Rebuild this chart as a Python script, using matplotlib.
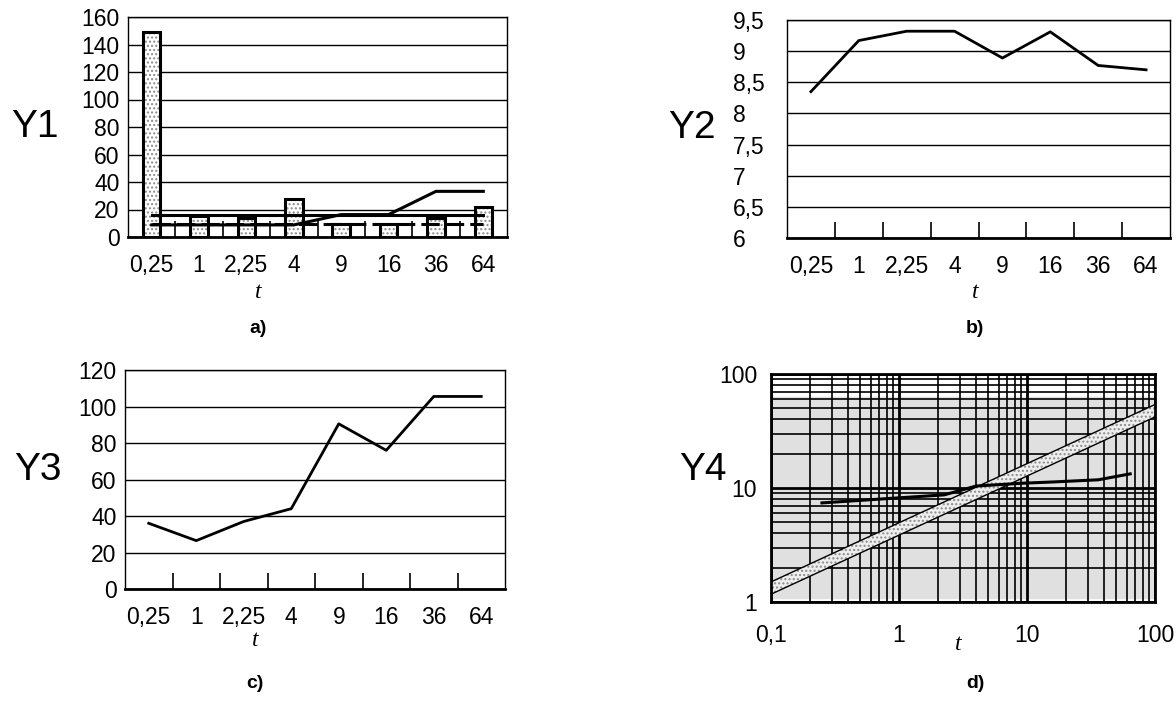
import numpy as np
import matplotlib
matplotlib.use("Agg")
import matplotlib.pyplot as plt
from matplotlib.ticker import FixedLocator, FixedFormatter, LogLocator, NullFormatter

plt.rcParams["font.family"] = ["Liberation Sans", "DejaVu Sans"]
plt.rcParams["hatch.linewidth"] = 1.0

# --- data ---
t_labels = ["0,25", "1", "2,25", "4", "9", "16", "36", "64"]
y1_bars = [149, 15.5, 13.5, 28, 9.5, 9.5, 13.5, 22]
y1_mean = [16.3, 16.3, 16.3, 16.3, 16.3, 16.3, 16.3, 16.3]
y1_step = [8.8, 8.8, 8.8, 8.8, 16.3, 16.3, 33.2, 33.2]
y1_dash = [9.8, 9.8, 9.8, 9.8, 9.8, 9.8, 9.8, 9.8]
y2 = [8.35, 9.17, 9.32, 9.32, 8.89, 9.31, 8.77, 8.70]
y3 = [36, 26.5, 37, 44, 90.5, 76, 105.5, 105.5]

t_num = [0.25, 1, 2.25, 4, 9, 16, 36, 64]
y4 = [7.4, 8.2, 8.7, 10.4, 11.0, 11.3, 11.8, 13.3]
band_t = [0.1, 100]
band_upper = [1.5, 54]
band_lower = [1.17, 42]

W, H = 1176, 702
TICK_FS = 16.5
fig = plt.figure(figsize=(W / 100, H / 100), dpi=100)


def px_axes(l, t, r, b):
    return fig.add_axes([l / W, 1 - b / H, (r - l) / W, (b - t) / H])


def cat_axes(ax, ymin, ymax, step, fmt):
    n = len(t_labels)
    ax.set_xlim(-0.5, n - 0.5)
    ax.set_ylim(ymin, ymax)
    ticks = np.arange(ymin, ymax + step / 2, step)
    ax.set_yticks(ticks)
    ax.set_yticklabels([fmt(v) for v in ticks])
    ax.yaxis.grid(True, color="black", linewidth=1.0)
    ax.set_axisbelow(True)
    ax.set_xticks(range(n))
    ax.set_xticklabels(t_labels)
    ax.xaxis.set_minor_locator(FixedLocator(np.arange(0.5, n - 1, 1.0)))
    ax.tick_params(axis="x", which="major", length=0, pad=12, labelsize=TICK_FS)
    ax.tick_params(axis="x", which="minor", direction="in", length=11.5,
                   width=1.2, color="black")
    ax.tick_params(axis="y", length=0, labelsize=TICK_FS)
    for s in ["top", "right", "left"]:
        ax.spines[s].set_linewidth(1.0)
    ax.spines["bottom"].set_linewidth(2.0)


# --- a) ---
ax1 = px_axes(128, 17, 507, 237)
cat_axes(ax1, 0, 160, 20, lambda v: f"{v:g}")
ax1.tick_params(axis="y", pad=6)
x = np.arange(len(t_labels))
ax1.bar(x, y1_bars, width=0.37, facecolor="white", edgecolor="0.55",
        hatch="....", linewidth=0, zorder=2)
ax1.bar(x, y1_bars, width=0.37, facecolor="none", edgecolor="black",
        linewidth=2.2, zorder=3)
ax1.plot(x, y1_mean, color="black", linewidth=2.2, zorder=4)
ax1.plot(x, y1_step, color="black", linewidth=2.2, zorder=4)
ax1.plot(x, y1_dash, color="black", linewidth=2.2, dashes=(6, 2), zorder=4)

# --- b) ---
ax2 = px_axes(787, 20, 1170, 238)
cat_axes(ax2, 6, 9.5, 0.5, lambda v: f"{v:g}".replace(".", ","))
ax2.tick_params(axis="y", pad=39)
for lab in ax2.get_yticklabels():
    lab.set_horizontalalignment("left")
ax2.plot(x, y2, color="black", linewidth=2.0)

# --- c) ---
ax3 = px_axes(125, 370, 505, 589)
cat_axes(ax3, 0, 120, 20, lambda v: f"{v:g}")
ax3.tick_params(axis="y", pad=6)
ax3.plot(x, y3, color="black", linewidth=2.0)

# --- d) ---
ax4 = px_axes(771, 374, 1155, 602)
ax4.set_xscale("log")
ax4.set_yscale("log")
ax4.set_xlim(0.1, 100)
ax4.set_ylim(1, 100)
ax4.axhspan(1.08, 63, color="#e0e0e0", zorder=0)
ax4.xaxis.set_major_locator(FixedLocator([0.1, 1, 10, 100]))
ax4.xaxis.set_major_formatter(FixedFormatter(["0,1", "1", "10", "100"]))
ax4.yaxis.set_major_locator(FixedLocator([1, 10, 100]))
ax4.yaxis.set_major_formatter(FixedFormatter(["1", "10", "100"]))
ax4.xaxis.set_minor_locator(LogLocator(base=10, subs=np.arange(2, 10)))
ax4.yaxis.set_minor_locator(LogLocator(base=10, subs=np.arange(2, 10)))
ax4.xaxis.set_minor_formatter(NullFormatter())
ax4.yaxis.set_minor_formatter(NullFormatter())
ax4.grid(True, which="major", color="black", linewidth=2.0, zorder=1)
ax4.grid(True, which="minor", color="black", linewidth=1.2, zorder=1)
ax4.set_axisbelow(True)
ax4.tick_params(which="both", length=0)
ax4.tick_params(axis="x", pad=16, labelsize=TICK_FS)
ax4.tick_params(axis="y", pad=10, labelsize=TICK_FS)
for s in ax4.spines.values():
    s.set_linewidth(2.0)
ax4.fill_between(band_t, band_lower, band_upper, facecolor="#eeeeee",
                 edgecolor="0.55", hatch="....", linewidth=0, zorder=2)
ax4.plot(band_t, band_upper, color="black", linewidth=1.0, zorder=3)
ax4.plot(band_t, band_lower, color="black", linewidth=1.0, zorder=3)
ax4.plot(t_num, y4, color="black", linewidth=2.2, zorder=4)

# --- labels ---
for name, (lx, ly) in {"Y1": (35, 127), "Y2": (692, 128),
                       "Y3": (38, 470), "Y4": (703, 470)}.items():
    fig.text(lx / W, 1 - ly / H, name, fontsize=28, ha="center", va="center")

for tx, ty in [(258, 292), (975, 292), (255, 640), (958, 645)]:
    fig.text(tx / W, 1 - ty / H, "t", fontsize=17, style="italic",
             family=["Liberation Serif", "DejaVu Serif"], ha="center", va="center")

for lab, (px, py) in {"a)": (258, 328), "b)": (975, 328),
                      "c)": (255, 683), "d)": (975, 683)}.items():
    fig.text(px / W, 1 - py / H, lab, fontsize=14, fontweight="bold",
             ha="center", va="center")

fig.savefig("out.png", dpi=100)
